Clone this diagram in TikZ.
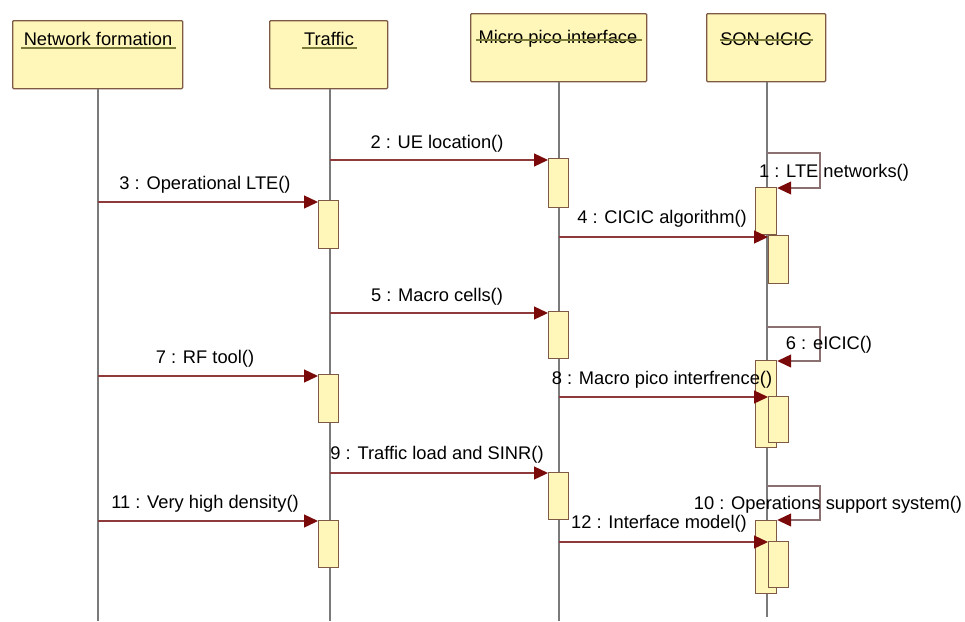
\documentclass[tikz,border=0pt]{standalone}
\usepackage{fontspec}
\setmainfont{Liberation Sans}
\usetikzlibrary{arrows.meta}
\definecolor{boxfill}{HTML}{FFF6B9}
\definecolor{boxdraw}{HTML}{7E5A45}
\definecolor{msgline}{HTML}{8E3A3A}
\definecolor{tipcol}{HTML}{7A0A0A}
\definecolor{lifecol}{HTML}{7A7A7A}
\definecolor{ulcol}{HTML}{7C7C3A}
\definecolor{loopcol}{HTML}{8A7070}
\tikzset{
  x=1pt, y=-1pt,
  lbl/.style={font=\fontsize{18.3}{21}\selectfont, inner sep=0pt},
  header/.style={draw=boxdraw, fill=boxfill, line width=1.3pt, rounded corners=1pt, inner sep=0pt},
  act/.style={draw=boxdraw, fill=boxfill, line width=1.2pt, inner sep=0pt, minimum width=20pt, anchor=north west},
  lifeline/.style={draw=lifecol, line width=1.6pt},
  msg/.style={draw=msgline, line width=1.3pt, -{Triangle[length=14pt,width=13pt,color=tipcol]}},
  selfmsg/.style={draw=loopcol, line width=1.2pt, -{Triangle[length=14pt,width=13pt,color=tipcol]}},
  ul/.style={draw=ulcol, line width=1.2pt},
}
\begin{document}
\begin{tikzpicture}
\useasboundingbox (0,0) rectangle (965,621);
% header boxes
\node[header, minimum width=170pt, minimum height=68pt, anchor=north west] (nf) at (12,20) {};
\node[header, minimum width=118pt, minimum height=68pt, anchor=north west] (tr) at (269,20) {};
\node[header, minimum width=176pt, minimum height=68pt, anchor=north west] (mp) at (470,13) {};
\node[header, minimum width=119pt, minimum height=68pt, anchor=north west] (son) at (706,13) {};
\node[lbl] (nft) at (98,39) {Network formation};
\node[lbl] (trt) at (329,39) {Traffic};
\node[lbl] (mpt) at (558,39) {Micro pico interface};
\node[lbl] (sont) at (766,39) {SON eICIC};
\draw[ul] (21,48) -- (176,48);
\draw[ul] (302,48) -- (357,48);
\draw[ul] (476,40) -- (642,40);
\draw[ul] (720,40) -- (813,40);
% lifelines
\coordinate (nfe) at (98,621);
\coordinate (tre) at (330,621);
\coordinate (mpe) at (559,621);
\coordinate (sone) at (767,617);
\draw[lifeline] (nf.south -| nfe) -- (nfe);
\draw[lifeline] (tr.south -| tre) -- (tre);
\draw[lifeline] (mp.south -| mpe) -- (mpe);
\draw[lifeline] (son.south -| sone) -- (sone);
% activation boxes: Traffic
\node[act, minimum height=48pt] (t3) at (318,200) {};
\node[act, minimum height=48pt] (t7) at (318,374) {};
\node[act, minimum height=47pt] (t11) at (318,520) {};
% Micro pico
\node[act, minimum height=49pt] (m2) at (548,158) {};
\node[act, minimum height=47pt] (m5) at (548,311) {};
\node[act, minimum height=47pt] (m9) at (548,472) {};
% SON
\node[act, minimum height=47pt, minimum width=21pt] (s1) at (755,187) {};
\node[act, minimum height=48pt] (s4) at (768,235) {};
\node[act, minimum height=87pt, minimum width=21pt] (s6) at (755,360) {};
\node[act, minimum height=46pt] (s8) at (768,396) {};
\node[act, minimum height=73pt, minimum width=21pt] (s10) at (755,520) {};
\node[act, minimum height=46pt] (s12) at (768,541) {};
% messages
\coordinate (c2) at (330,160);
\draw[msg] (c2) -- (m2.west |- c2);
\coordinate (c3) at (98,202);
\draw[msg] (c3) -- (t3.west |- c3);
\coordinate (c4) at (559,237);
\draw[msg] (c4) -- (s4.west |- c4);
\coordinate (c5) at (330,313);
\draw[msg] (c5) -- (m5.west |- c5);
\coordinate (c7) at (98,376);
\draw[msg] (c7) -- (t7.west |- c7);
\coordinate (c8) at (559,397);
\draw[msg] (c8) -- (s8.west |- c8);
\coordinate (c9) at (330,473);
\draw[msg] (c9) -- (m9.west |- c9);
\coordinate (c11) at (98,521);
\draw[msg] (c11) -- (t11.west |- c11);
\coordinate (c12) at (559,542);
\draw[msg] (c12) -- (s12.west |- c12);
% self messages
\coordinate (c1) at (767,153);
\draw[selfmsg] (c1) -- (820,153) -- (820,188) -- (s1.east |- 0,188);
\coordinate (c6) at (767,327);
\draw[selfmsg] (c6) -- (820,327) -- (820,361) -- (s6.east |- 0,361);
\coordinate (c10) at (767,486);
\draw[selfmsg] (c10) -- (820,486) -- (820,520) -- (s10.east |- 0,520);
% labels
\node[lbl] (l2) at (437,144) {2 : UE location()};
\node[lbl] (l3) at (205,185) {3 : Operational LTE()};
\node[lbl] (l1) at (834,173) {1 : LTE networks()};
\node[lbl] (l4) at (662,219) {4 : CICIC algorithm()};
\node[lbl] (l5) at (437,297) {5 : Macro cells()};
\node[lbl] (l6) at (829,345) {6 : eICIC()};
\node[lbl] (l7) at (205,359) {7 : RF tool()};
\node[lbl] (l8) at (662,380) {8 : Macro pico interfrence()};
\node[lbl] (l9) at (437,455) {9 : Traffic load and SINR()};
\node[lbl] (l10) at (828,505) {10 : Operations support system()};
\node[lbl] (l11) at (205,504) {11 : Very high density()};
\node[lbl] (l12) at (659,524) {12 : Interface model()};
\end{tikzpicture}
\end{document}
